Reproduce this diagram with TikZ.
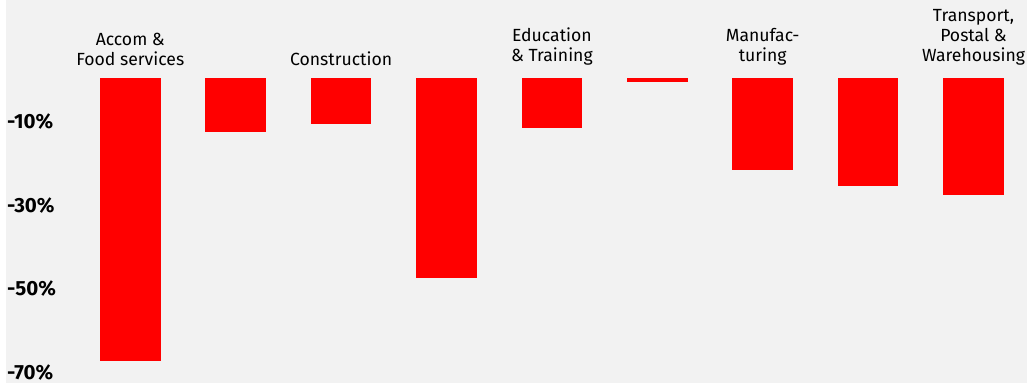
\documentclass[tikz,border=0pt]{standalone}
\usepackage{fontspec}
\setmainfont{Fira Sans}
\definecolor{bg}{HTML}{F2F2F2}
\definecolor{barred}{HTML}{FF0000}
\begin{document}
\begin{tikzpicture}[x=1pt,y=-1pt,
  bar/.style={fill=barred},
  cat/.style={font=\fontsize{17.6}{20}\selectfont, align=center, anchor=south, inner sep=0pt},
  tick/.style={font=\bfseries\fontsize{20.5}{22}\selectfont, anchor=west, inner sep=0pt}]
\useasboundingbox (0,0) rectangle (1027,383);
\fill[white] (0,0) rectangle (1027,383);
\fill[bg] (6,0) rectangle (1027,383);
% zero line at y=78, 1% = 4.175px
\foreach \i/\v in {0/67.8,1/12.9,2/11,3/47.9,4/12,5/1,6/22,7/25.9,8/28}{
  \fill[bar] ({100+105.4*\i},78) rectangle ({160.5+105.4*\i},{78+4.175*\v});
}
\node[tick] (t10) at (7,122) {-10\%};
\node[tick] (t30) at (7,205.5) {-30\%};
\node[tick] (t50) at (7,289) {-50\%};
\node[tick] (t70) at (7,372.5) {-70\%};
\node[cat] (c1) at (130.3,65.5) {Accom \&\\Food services};
\node[cat] (c3) at (341.1,65.5) {Construction};
\node[cat] (c5) at (551.9,65.5) {Education\\\& Training};
\node[cat] (c7) at (762.7,65.5) {Manufac-\\turing};
\node[cat] (c9) at (973.5,65.5) {Transport,\\Postal \&\\Warehousing};
\end{tikzpicture}
\end{document}
